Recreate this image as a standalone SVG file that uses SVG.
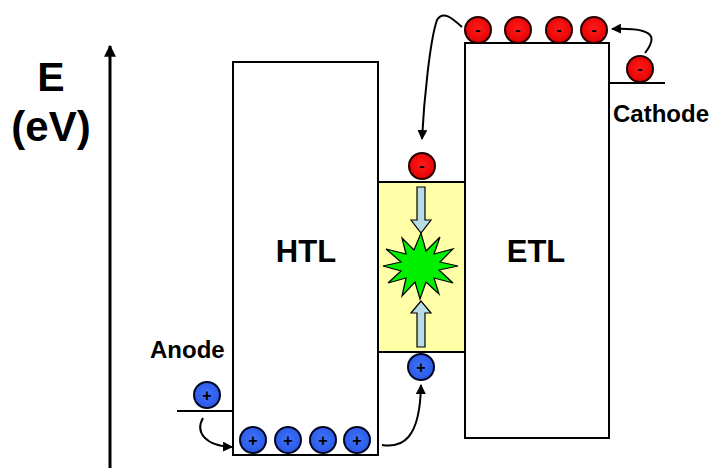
<svg xmlns="http://www.w3.org/2000/svg" width="712" height="468" viewBox="0 0 712 468">
<defs>
<marker id="ah" viewBox="0 0 10 10" refX="9" refY="5" markerWidth="10" markerHeight="10" markerUnits="userSpaceOnUse" orient="auto">
<path d="M0,0 L10,5 L0,10 Z" fill="#000"/>
</marker>
<marker id="ahb" viewBox="0 0 10 10" refX="9" refY="5" markerWidth="13" markerHeight="12" markerUnits="userSpaceOnUse" orient="auto">
<path d="M0,0 L10,5 L0,10 Z" fill="#000"/>
</marker>
<radialGradient id="gr" cx="0.5" cy="0.45" r="0.6">
<stop offset="0" stop-color="#ff1a1a"/><stop offset="1" stop-color="#e00000"/>
</radialGradient>
<radialGradient id="gb" cx="0.5" cy="0.45" r="0.6">
<stop offset="0" stop-color="#3f72f8"/><stop offset="1" stop-color="#2856e6"/>
</radialGradient>
</defs>
<style>
.box{fill:#fff;stroke:#000;stroke-width:2}
.lvl{stroke:#000;stroke-width:2}
.e{fill:url(#gr);stroke:#200;stroke-width:2}
.h{fill:url(#gb);stroke:#000820;stroke-width:2}
.sg{font-family:"Liberation Sans",Arial,sans-serif;font-weight:bold;font-size:16px;fill:#000;text-anchor:middle}
.lbl{font-family:"Liberation Sans",Arial,sans-serif;font-weight:bold;fill:#000}
.con{fill:none;stroke:#000;stroke-width:2;marker-end:url(#ah)}
.ba{fill:#b8dce4;stroke:#000;stroke-width:1.2}
</style>
<rect width="712" height="468" fill="#fff"/>
<g id="axis">
<line x1="110" y1="468" x2="110" y2="46" stroke="#000" stroke-width="3" marker-end="url(#ahb)"/>
<text class="lbl" x="51" y="91" font-size="41" text-anchor="middle">E</text>
<text class="lbl" x="51" y="141" font-size="42" text-anchor="middle">(eV)</text>
</g>
<g id="HTL">
<rect class="box" x="233" y="62" width="145" height="393"/>
<text class="lbl" x="306" y="262" font-size="31" text-anchor="middle">HTL</text>
</g>
<g id="EML">
<rect x="378" y="182" width="87" height="170" fill="#ffffa8" stroke="#000" stroke-width="2"/>
<polygon class="ba" points="417,187 425,187 425,220 431,220 421,233 411,220 417,220"/>
<polygon class="ba" points="411,313 421,301 431,313 425,313 425,347 417,347 417,313"/>
<polygon points="458,266 440,262 453,249 434,254 440,237 426,251 421,233 414,250 402,238 406,254 386,249 401,262 383,266 401,271 388,283 406,278 402,296 415,282 420,299 426,282 439,294 434,278 453,283 439,270" fill="#00f000" stroke="#000" stroke-width="1.2" stroke-linejoin="miter"/>
</g>
<g id="ETL">
<rect class="box" x="465" y="43" width="144" height="395"/>
<text class="lbl" x="536" y="262" font-size="31" text-anchor="middle">ETL</text>
</g>
<g id="cathode">
<line class="lvl" x1="609" y1="83" x2="665" y2="83"/>
<text class="lbl" x="613" y="122" font-size="24">Cathode</text>
</g>
<g id="anode">
<line class="lvl" x1="177" y1="411" x2="233" y2="411"/>
<text class="lbl" x="150" y="358" font-size="24">Anode</text>
</g>
<g id="electrons">
<circle class="e" cx="478" cy="30" r="13"/><text class="sg" x="478" y="35">-</text>
<circle class="e" cx="518" cy="30" r="13"/><text class="sg" x="518" y="35">-</text>
<circle class="e" cx="559" cy="30" r="13"/><text class="sg" x="559" y="35">-</text>
<circle class="e" cx="594" cy="30" r="13"/><text class="sg" x="594" y="35">-</text>
<circle class="e" cx="640" cy="69" r="13"/><text class="sg" x="640" y="74">-</text>
<circle class="e" cx="422" cy="166" r="13"/><text class="sg" x="422" y="171">-</text>
</g>
<g id="holes">
<circle class="h" cx="253" cy="440" r="13"/><text class="sg" x="253" y="446">+</text>
<circle class="h" cx="288" cy="440" r="13"/><text class="sg" x="288" y="446">+</text>
<circle class="h" cx="323" cy="440" r="13"/><text class="sg" x="323" y="446">+</text>
<circle class="h" cx="357" cy="440" r="13"/><text class="sg" x="357" y="446">+</text>
<circle class="h" cx="207" cy="395" r="13"/><text class="sg" x="207" y="401">+</text>
<circle class="h" cx="421" cy="367" r="13"/><text class="sg" x="421" y="373">+</text>
</g>
<g id="connectors">
<path class="con" d="M645,53 C655,40 660,27 612,29"/>
<path class="con" d="M462,27 C452,18 443,10 437,20 C430,40 424,100 422,139"/>
<path class="con" d="M203,418 C195,432 205,446 232,447"/>
<path class="con" d="M382,445 C402,448 420,440 421,385"/>
</g>
</svg>
